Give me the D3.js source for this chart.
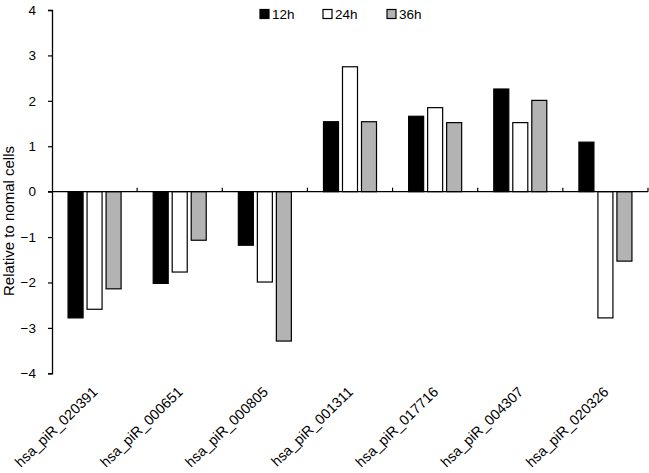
<!DOCTYPE html>
<html>
<head>
<meta charset="utf-8">
<script src="https://cdn.jsdelivr.net/npm/d3@7"></script>
<style>
  html, body { margin: 0; padding: 0; background: #fff; }
  svg { display: block; }
  text { font-family: "Liberation Sans", Arial, sans-serif; fill: #000; }
</style>
</head>
<body>
<script>
const categories = ["hsa_piR_020391","hsa_piR_000651","hsa_piR_000805","hsa_piR_001311","hsa_piR_017716","hsa_piR_004307","hsa_piR_020326"];
const seriesNames = ["12h","24h","36h"];
const values12h = [-2.78, -2.02, -1.18, 1.54, 1.66, 2.26, 1.09];
const values24h = [-2.59, -1.77, -1.99, 2.75, 1.85, 1.52, -2.78];
const values36h = [-2.14, -1.07, -3.29, 1.54, 1.52, 2.01, -1.53];
const yTicks = [-4, -3, -2, -1, 0, 1, 2, 3, 4];
const colors = ["#000000", "#ffffff", "#b3b3b3"];
const yTitle = "Relative to nomal cells";

(function () {
const W = 649, H = 473;
const plotLeft = 52, plotRight = 648, plotTop = 10, plotBottom = 373.3;

const svg = d3.select("body").append("svg").attr("width", W).attr("height", H);

const x0 = d3.scaleBand().domain(categories).range([plotLeft, plotRight]).padding(0);
const x1 = d3.scaleBand().domain(seriesNames).range([0, x0.bandwidth()])
  .paddingInner(0.21).paddingOuter(0.845);
const y = d3.scaleLinear().domain([-4, 4]).range([plotBottom, plotTop]);

const allSeries = [values12h, values24h, values36h];
const data = [];
categories.forEach((c, i) => {
  seriesNames.forEach((s, j) => data.push({cat: c, ser: s, v: allSeries[j][i], color: colors[j]}));
});

// bars
svg.append("g").selectAll("rect").data(data).join("rect")
  .attr("x", d => x0(d.cat) + x1(d.ser))
  .attr("width", x1.bandwidth())
  .attr("y", d => y(Math.max(0, d.v)))
  .attr("height", d => Math.abs(y(d.v) - y(0)))
  .attr("fill", d => d.color)
  .attr("stroke", "#000")
  .attr("stroke-width", 1.2);

// y axis
const yAxis = d3.axisLeft(y).tickValues(yTicks).tickSize(4).tickPadding(12)
  .tickFormat(d3.format("d"));
const gy = svg.append("g").attr("transform", `translate(${plotLeft},0)`).call(yAxis);
gy.select(".domain").attr("stroke", "#000").attr("stroke-width", 1.3);
gy.selectAll(".tick line").attr("stroke", "#000").attr("stroke-width", 1.2);
gy.selectAll(".tick text").attr("font-size", 13.5).attr("font-family", '"Liberation Sans", Arial, sans-serif');

// x axis at zero
const gx = svg.append("g").attr("transform", `translate(0,${y(0)})`);
gx.append("line").attr("x1", plotLeft - 4).attr("x2", plotRight).attr("y1", 0).attr("y2", 0)
  .attr("stroke", "#000").attr("stroke-width", 1.3);
const boundaries = categories.map(c => x0(c) + x0.bandwidth());
gx.selectAll("line.ct").data(boundaries).join("line").attr("class", "ct")
  .attr("x1", d => d).attr("x2", d => d).attr("y1", 0).attr("y2", -4)
  .attr("stroke", "#000").attr("stroke-width", 1.2);

// category labels
svg.append("g").selectAll("text").data(categories).join("text")
  .attr("transform", d => `translate(${x0(d) + x0.bandwidth() / 2 + 4},393) rotate(-44)`)
  .attr("text-anchor", "end")
  .attr("font-size", 14.3)
  .text(d => d);

// y title
svg.append("text")
  .attr("transform", `translate(14,221) rotate(-90)`)
  .attr("text-anchor", "middle")
  .attr("font-size", 15)
  .text(yTitle);

// legend
const legendX = [260, 323, 387];
const lg = svg.append("g").selectAll("g").data(seriesNames).join("g")
  .attr("transform", (d, i) => `translate(${legendX[i]},9.5)`);
lg.append("rect").attr("width", 9).attr("height", 9)
  .attr("fill", (d, i) => colors[i]).attr("stroke", "#000").attr("stroke-width", 1.2);
lg.append("text").attr("x", 12).attr("y", 9.5).attr("font-size", 13.5).text(d => d);
})();
</script>
</body>
</html>
